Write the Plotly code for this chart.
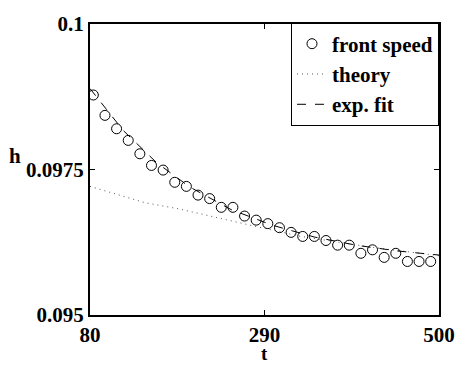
import plotly.graph_objects as go

# measured front speed h(t)
t_front = [84, 98, 112, 126, 140, 154, 168, 182, 196, 210, 224, 238, 252, 266, 280,
           294, 308, 322, 336, 350, 364, 378, 392, 406, 420, 434, 448, 462, 476, 490]
h_front = [0.09878, 0.09843, 0.09820, 0.09800, 0.09777, 0.09757, 0.09749, 0.09728,
           0.09721, 0.09706, 0.09700, 0.09685, 0.09685, 0.09670, 0.09663, 0.09657,
           0.09650, 0.09642, 0.09635, 0.09635, 0.09628, 0.09620, 0.09620, 0.09606,
           0.09612, 0.09599, 0.09606, 0.09592, 0.09592, 0.09592]

# theoretical prediction
t_theory = [80, 146, 188, 247, 280, 334, 421, 500]
h_theory = [0.09721, 0.09693, 0.09682, 0.09662, 0.09652, 0.09635, 0.09616, 0.09602]

# exponential fit to the front speed
t_fit = [80, 120, 160, 200, 250, 300, 350, 400, 450, 500]
h_fit = [0.09889, 0.09817, 0.09762, 0.09720, 0.09681, 0.09654, 0.09634, 0.09620,
         0.09610, 0.09603]

x_ticks = [80, 290, 500]
y_ticks = [0.095, 0.0975, 0.1]
y_tick_text = ["0.095", "0.0975", "0.1"]

font = dict(family="Liberation Serif", size=21, color="black", weight="bold")
legend_font = dict(family="Liberation Serif", size=21, color="black", weight="bold")
label_font = dict(family="Liberation Serif", size=19, color="black", weight="bold")

fig = go.Figure()
fig.add_trace(go.Scatter(
    x=t_front, y=h_front, mode="markers", name="front speed",
    marker=dict(symbol="circle-open", size=10, color="black", line=dict(width=1, color="black")),
))
fig.add_trace(go.Scatter(
    x=t_theory, y=h_theory, mode="lines", name="theory",
    line=dict(color="#555555", width=1, dash="1px,4px"),
))
fig.add_trace(go.Scatter(
    x=t_fit, y=h_fit, mode="lines", name="exp. fit",
    line=dict(color="black", width=1, dash="dash"),
))

axis_common = dict(
    showgrid=False, zeroline=False, showline=True, linecolor="black", linewidth=2,
    mirror="ticks", ticks="inside", ticklen=5, tickcolor="black", tickwidth=1,
    tickfont=font,
)

fig.update_xaxes(range=[80, 500], tickvals=x_ticks,
                 ticktext=[str(v) for v in x_ticks], **axis_common)
fig.update_yaxes(range=[0.095, 0.1], tickvals=y_ticks,
                 ticktext=y_tick_text, **axis_common)

fig.update_layout(
    width=467, height=365,
    margin=dict(l=90, r=20, t=12, b=50),
    paper_bgcolor="white", plot_bgcolor="white",
    font=font,
    showlegend=True,
    legend=dict(
        x=1.0, y=1.005, xanchor="right", yanchor="top",
        bordercolor="black", borderwidth=1, bgcolor="white",
        font=legend_font,
        itemwidth=30, tracegroupgap=0,
    ),
    annotations=[
        dict(text="t", x=0.5, y=-0.133, xref="paper", yref="paper",
             xanchor="center", yanchor="middle", showarrow=False, font=label_font),
        dict(text="h", x=-0.215, y=0.545, xref="paper", yref="paper",
             xanchor="center", yanchor="middle", showarrow=False, font=font),
    ],
)

fig.write_html("out.html")
